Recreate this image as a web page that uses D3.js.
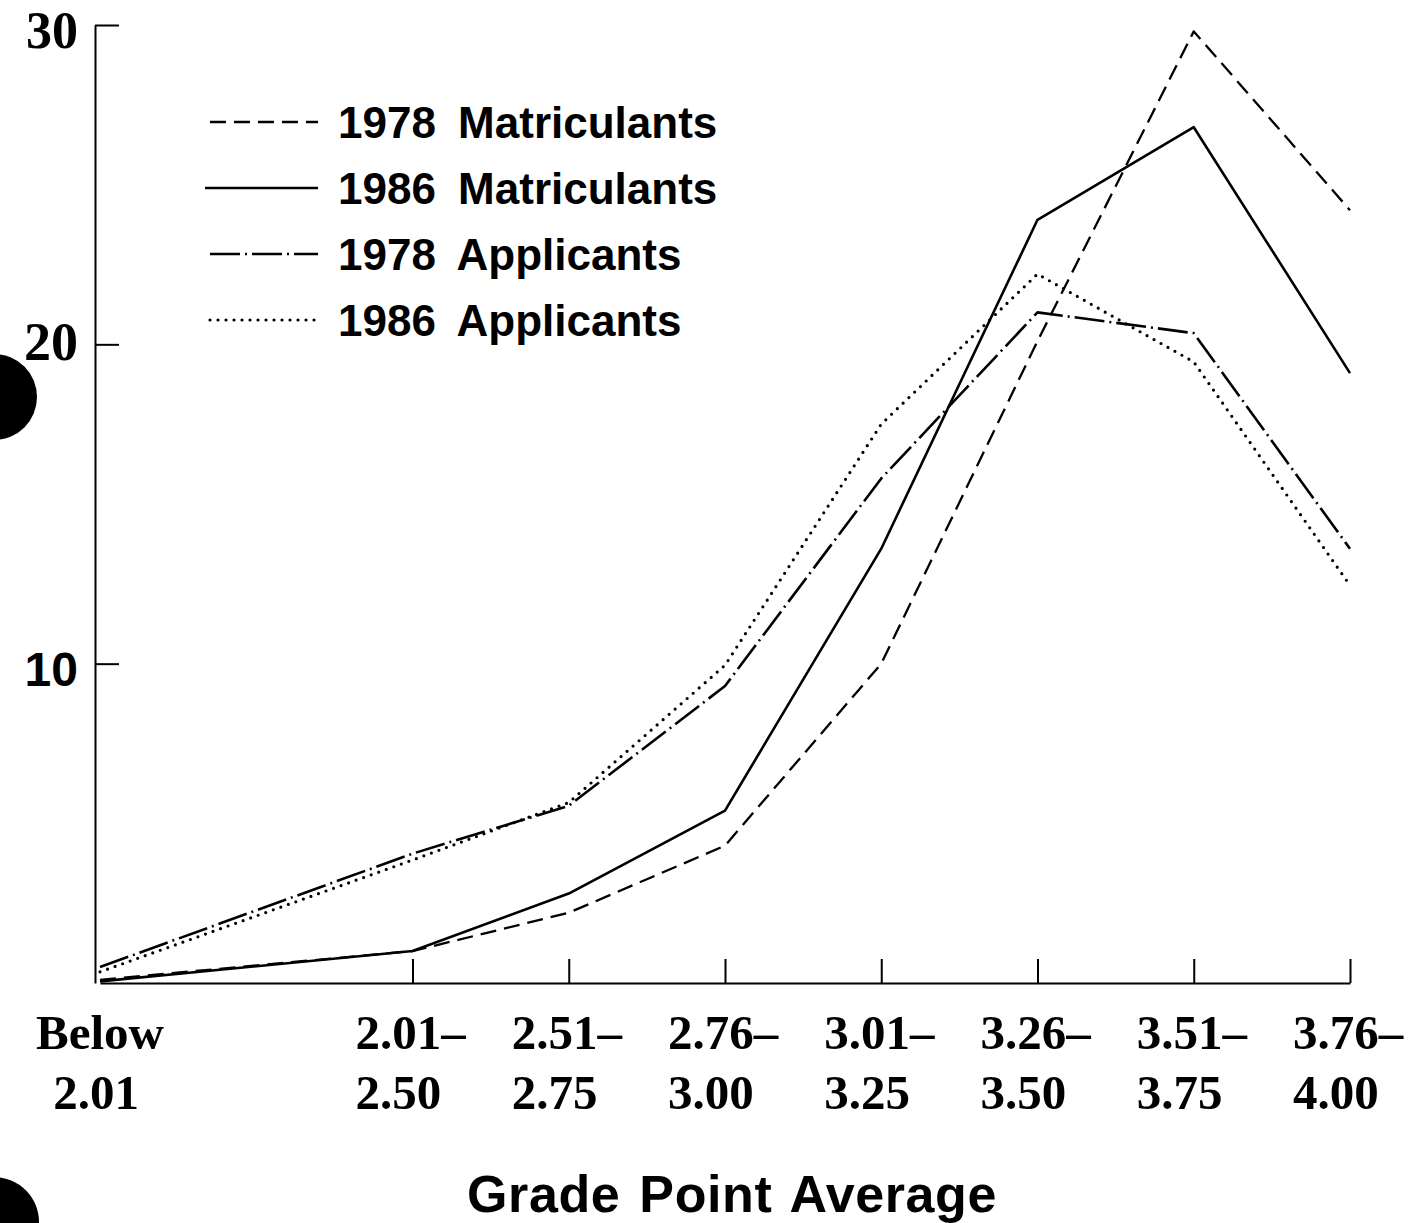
<!DOCTYPE html>
<head>
  <meta charset="utf-8">
  <script src="https://d3js.org/d3.v7.min.js"></script>
  <style>
    body { margin:0; background:#fff; }
    .serif { font-family: "Liberation Serif", "Times New Roman", serif; font-weight: bold; }
    .sans { font-family: "Liberation Sans", Arial, sans-serif; font-weight: bold; }
  </style>
</head>
<body>
  <script>
    // GPA categories (first one sits alone at the left, then evenly spaced)
    var categories = ["Below 2.01", "2.01-2.50", "2.51-2.75", "2.76-3.00", "3.01-3.25", "3.26-3.50", "3.51-3.75", "3.76-4.00"];
    var catPos = [0, 2, 3, 4, 5, 6, 7, 8];
    var labelTop = ["Below", "2.01-", "2.51-", "2.76-", "3.01-", "3.26-", "3.51-", "3.76-"];
    var labelBottom = ["2.01", "2.50", "2.75", "3.00", "3.25", "3.50", "3.75", "4.00"];

    // percent of group in each GPA range
    var matric1978 = [0.1, 1.0, 2.2, 4.3, 10.0, 20.1, 29.8, 24.2];
    var matric1986 = [0.05, 1.0, 2.8, 5.4, 13.6, 23.9, 26.8, 19.1];
    var appl1978 = [0.5, 4.05, 5.55, 9.3, 15.8, 21.0, 20.35, 13.6];
    var appl1986 = [0.35, 3.85, 5.65, 9.95, 17.5, 22.2, 19.45, 12.45];

    var seriesNames = ["1978 Matriculants", "1986 Matriculants", "1978 Applicants", "1986 Applicants"];
    var yTicks = [10, 20, 30];

    var width = 1421, height = 1223;

    var svg = d3.select("body").append("svg")
      .attr("width", width)
      .attr("height", height);

    var x = d3.scaleLinear().domain([0, 8]).range([100, 1350]);
    var y = d3.scaleLinear().domain([0, 30]).range([983, 25]);

    // dash styles for each series
    var dashes = ["16,8", null, "30,5,2,5", "0,8"];
    var caps = ["butt", "butt", "butt", "round"];
    var widths = [2.3, 2.6, 2.6, 3.2];

    var series = [matric1978, matric1986, appl1978, appl1986];

    // hole punches on the scanned page
    svg.append("circle").attr("cx", -6).attr("cy", 397).attr("r", 43).attr("fill", "#000");
    svg.append("circle").attr("cx", -6).attr("cy", 1222).attr("r", 45).attr("fill", "#000");

    // y axis
    var yAxis = svg.append("g")
      .attr("transform", "translate(95,0)")
      .call(d3.axisRight(y).tickValues(yTicks).tickSize(24).tickSizeOuter(0).tickFormat(""));
    yAxis.select(".domain").attr("stroke-width", 2);
    yAxis.selectAll(".tick line").attr("stroke-width", 2);

    svg.selectAll(".ylab")
      .data(yTicks)
      .enter().append("text")
      .attr("class", function(d) { return d == 10 ? "ylab sans" : "ylab serif"; })
      .attr("x", 78)
      .attr("y", function(d) { return y(d) + (d == 30 ? 23 : d == 10 ? 22 : 16); })
      .attr("text-anchor", "end")
      .attr("font-size", function(d) { return d == 10 ? 48 : d == 30 ? 52 : 54; })
      .text(function(d) { return d; });

    // x axis, ticks pointing up
    var xAxis = svg.append("g")
      .attr("transform", "translate(0," + y(0) + ")")
      .call(d3.axisTop(x).tickValues(catPos.slice(1)).tickSize(24).tickSizeOuter(0).tickFormat(""));
    xAxis.select(".domain").attr("stroke-width", 2);
    xAxis.selectAll(".tick line").attr("stroke-width", 2);

    var xl = svg.selectAll(".xlab")
      .data(categories)
      .enter().append("g")
      .attr("class", "xlab serif")
      .attr("font-size", 49);
    xl.append("text")
      .attr("x", function(d, i) { return i == 0 ? x(catPos[i]) : x(catPos[i]) - 57; })
      .attr("y", 1049)
      .attr("text-anchor", function(d, i) { return i == 0 ? "middle" : "start"; })
      .text(function(d, i) { return labelTop[i].replace("-", "\u2013"); });
    xl.append("text")
      .attr("x", function(d, i) { return i == 0 ? x(catPos[i]) - 4 : x(catPos[i]) - 57; })
      .attr("y", 1109)
      .attr("text-anchor", function(d, i) { return i == 0 ? "middle" : "start"; })
      .text(function(d, i) { return labelBottom[i]; });

    svg.append("text")
      .attr("class", "sans")
      .attr("x", 732)
      .attr("y", 1212)
      .attr("text-anchor", "middle")
      .attr("font-size", 52)
      .attr("letter-spacing", 0.6)
      .attr("word-spacing", 4)
      .text("Grade Point Average");

    // lines
    var line = d3.line()
      .x(function(d, i) { return x(catPos[i]); })
      .y(function(d) { return y(d); });

    svg.selectAll(".series")
      .data(series)
      .enter().append("path")
      .attr("class", "series")
      .attr("d", line)
      .attr("fill", "none")
      .attr("stroke", "#000")
      .attr("stroke-width", function(d, i) { return widths[i]; })
      .attr("stroke-dasharray", function(d, i) { return dashes[i]; })
      .attr("stroke-linecap", function(d, i) { return caps[i]; })
      .attr("stroke-linejoin", "round");

    // legend
    var leg = svg.selectAll(".leg")
      .data(seriesNames)
      .enter().append("g")
      .attr("class", "leg")
      .attr("transform", function(d, i) { return "translate(0," + (138 + i * 66) + ")"; });
    leg.append("line")
      .attr("x1", function(d, i) { return i == 1 ? 205 : 210; })
      .attr("x2", 318)
      .attr("y1", -16).attr("y2", -16)
      .attr("stroke", "#000")
      .attr("stroke-width", function(d, i) { return widths[i]; })
      .attr("stroke-dasharray", function(d, i) { return dashes[i]; })
      .attr("stroke-linecap", function(d, i) { return caps[i]; });
    leg.append("text")
      .attr("class", "sans")
      .attr("x", 338)
      .attr("y", 0)
      .attr("font-size", 44)
      .attr("word-spacing", 10)
      .text(function(d) { return d; });
  </script>
</body>
